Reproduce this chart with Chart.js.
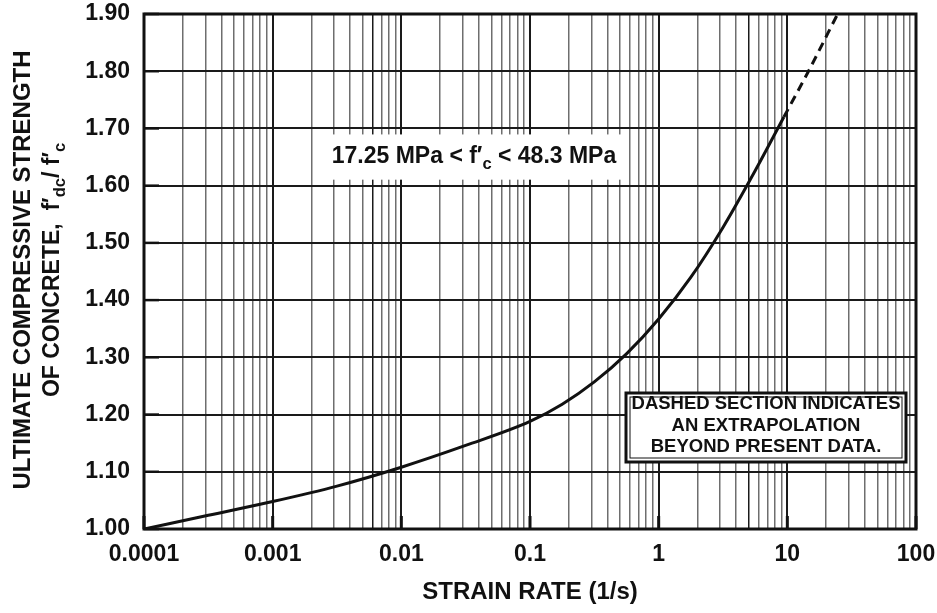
<!DOCTYPE html>
<html>
<head>
<meta charset="utf-8">
<script src="https://cdn.jsdelivr.net/npm/chart.js@4.4.1/dist/chart.umd.min.js"></script>
<style>
  html, body { margin: 0; background: #fff; }
  #wrap { width: 937px; height: 613px; }
</style>
</head>
<body>
<div id="wrap"><canvas id="chart"></canvas></div>
<script>
// measured part of the curve (solid)
const measuredRate = [0.0001, 0.000316, 0.001, 0.00316, 0.01, 0.0316, 0.1, 0.178, 0.316, 0.562, 1, 1.78, 3.16, 5.62, 9.4]
const measuredRatio = [1.000, 1.024, 1.048, 1.075, 1.108, 1.146, 1.188, 1.218, 1.257, 1.306, 1.367, 1.44, 1.527, 1.626, 1.72]

// extrapolated part (dashed)
const extrapRate = [9.4, 14.6, 24.6]
const extrapRatio = [1.72, 1.80, 1.90]

const xDecades = [0.0001, 0.001, 0.01, 0.1, 1, 10, 100]
const xTickLabels = ['0.0001', '0.001', '0.01', '0.1', '1', '10', '100']
const yMin = 1.00
const yMax = 1.90

// grid lines that print darker in the original scan
const darkMinor = [0.006, 5]

const INK = '#111'
const FONT = '"Liberation Sans", Arial, Helvetica, sans-serif'

const isDecade = v => {
  const e = Math.log10(v)
  return Math.abs(e - Math.round(e)) < 1e-9
}
const isMajorY = v => Math.abs(v * 10 - Math.round(v * 10)) < 1e-6

function toPoints (xs, ys) {
  return xs.map((x, i) => ({ x, y: ys[i] }))
}

// labels may hang over the plot edges; the frame is placed by layout padding only
function noEdgePadding (scale) {
  scale.paddingTop = 0
  scale.paddingBottom = 0
  scale.paddingLeft = 0
  scale.paddingRight = 0
}

// draw text made of runs, some of them subscripts, centred on (cx, cy)
function richText (ctx, runs, cx, cy, size, angle) {
  ctx.save()
  ctx.translate(cx, cy)
  ctx.rotate(angle || 0)
  ctx.textBaseline = 'middle'
  ctx.textAlign = 'left'
  ctx.fillStyle = INK
  let total = 0
  runs.forEach(r => {
    ctx.font = 'bold ' + (r.sub ? size * 0.72 : size) + 'px ' + FONT
    r.w = ctx.measureText(r.t).width
    total += r.w
  })
  let x = -total / 2
  runs.forEach(r => {
    ctx.font = 'bold ' + (r.sub ? size * 0.72 : size) + 'px ' + FONT
    ctx.fillText(r.t, x, r.sub ? size * 0.32 : 0)
    x += r.w
  })
  ctx.restore()
  return total
}

const decorations = {
  id: 'decorations',
  afterDraw (chart) {
    const { ctx, chartArea: a, scales: { x, y } } = chart

    // inside tick marks
    ctx.save()
    ctx.strokeStyle = INK
    ctx.lineWidth = 2.5
    for (let v = yMin; v <= yMax + 1e-9; v += 0.1) {
      const py = y.getPixelForValue(v)
      ctx.beginPath(); ctx.moveTo(a.left, py); ctx.lineTo(a.left + 15, py); ctx.stroke()
    }
    ctx.lineWidth = 3
    xDecades.forEach(v => {
      const px = x.getPixelForValue(v)
      ctx.beginPath(); ctx.moveTo(px, a.bottom); ctx.lineTo(px, a.bottom - 13); ctx.stroke()
    })

    // frame
    ctx.lineWidth = 3
    ctx.strokeRect(a.left, a.top, a.right - a.left, a.bottom - a.top)
    ctx.restore()

    // axis titles
    richText(ctx, [{ t: 'STRAIN RATE (1/s)' }], 530, 592, 24)
    richText(ctx, [{ t: 'ULTIMATE COMPRESSIVE STRENGTH' }], 23, 270, 24, -Math.PI / 2)
    richText(ctx, [
      { t: 'OF CONCRETE,  f\u2032' }, { t: 'dc', sub: true },
      { t: '/ f\u2032' }, { t: 'c', sub: true }
    ], 53, 270, 23, -Math.PI / 2)

    // strength range label on a white patch
    const ly = y.getPixelForValue(1.65)
    ctx.save()
    ctx.fillStyle = '#fff'
    ctx.fillRect(313, y.getPixelForValue(1.70) + 6, 314, y.getPixelForValue(1.60) - y.getPixelForValue(1.70) - 12)
    ctx.restore()
    richText(ctx, [
      { t: '17.25 MPa < f\u2032' }, { t: 'c', sub: true }, { t: ' < 48.3 MPa' }
    ], 474, ly, 23)

    // note box
    ctx.save()
    ctx.fillStyle = '#fff'
    ctx.fillRect(625, 392, 282, 71)
    ctx.strokeStyle = INK
    ctx.lineWidth = 3
    ctx.strokeRect(626, 393, 280, 69)
    ctx.lineWidth = 1
    ctx.strokeRect(630, 397, 272, 61)
    ctx.restore()
    const note = ['DASHED SECTION INDICATES', 'AN EXTRAPOLATION', 'BEYOND PRESENT DATA.']
    note.forEach((t, i) => richText(ctx, [{ t }], 766, 404 + i * 21.5, 18.5))
  }
}

const el = document.getElementById('chart')
new Chart(el.getContext('2d'), {
  type: 'line',
  data: {
    datasets: [
      {
        data: toPoints(measuredRate, measuredRatio),
        borderColor: INK,
        borderWidth: 3,
        pointRadius: 0,
        cubicInterpolationMode: 'monotone',
        fill: false
      },
      {
        data: toPoints(extrapRate, extrapRatio),
        borderColor: INK,
        borderWidth: 3,
        borderDash: [9, 6],
        pointRadius: 0,
        cubicInterpolationMode: 'monotone',
        fill: false
      }
    ]
  },
  options: {
    responsive: true,
    maintainAspectRatio: false,
    animation: false,
    layout: { padding: { top: 14, right: 21, left: 0, bottom: 0 } },
    plugins: { legend: { display: false }, tooltip: { enabled: false } },
    scales: {
      x: {
        type: 'logarithmic',
        min: 0.0001,
        max: 100,
        afterBuildTicks: scale => {
          const ticks = []
          for (let e = -4; e < 2; e++) {
            for (let k = 1; k <= 9; k++) ticks.push({ value: +(k * Math.pow(10, e)).toPrecision(6) })
          }
          ticks.push({ value: 100 })
          scale.ticks = ticks
        },
        afterFit: scale => { scale.height = 84; noEdgePadding(scale) },
        border: { display: false },
        grid: {
          drawTicks: false,
          color: c => {
            const v = c.tick && c.tick.value
            if (v === undefined) return '#777'
            if (isDecade(v) || darkMinor.some(d => Math.abs(d - v) < 1e-9)) return '#1a1a1a'
            return '#6e6e6e'
          },
          lineWidth: c => (c.tick && isDecade(c.tick.value)) ? 2 : 1.5
        },
        ticks: {
          autoSkip: false,
          maxRotation: 0,
          padding: 12,
          color: INK,
          font: { family: FONT, size: 23, weight: 'bold' },
          callback: v => isDecade(v) ? xTickLabels[Math.round(Math.log10(v)) + 4] : ''
        }
      },
      y: {
        type: 'linear',
        min: yMin,
        max: yMax,
        afterFit: scale => { scale.width = 144; noEdgePadding(scale) },
        border: { display: false },
        grid: {
          drawTicks: false,
          color: c => (c.tick && isMajorY(c.tick.value)) ? '#1a1a1a' : '#999',
          lineWidth: c => (c.tick && isMajorY(c.tick.value)) ? 2 : 1.5
        },
        ticks: {
          stepSize: 0.05,
          padding: 14,
          color: INK,
          font: { family: FONT, size: 23, weight: 'bold' },
          callback: v => isMajorY(v) ? v.toFixed(2) : ''
        }
      }
    }
  },
  plugins: [decorations]
})
</script>
</body>
</html>
